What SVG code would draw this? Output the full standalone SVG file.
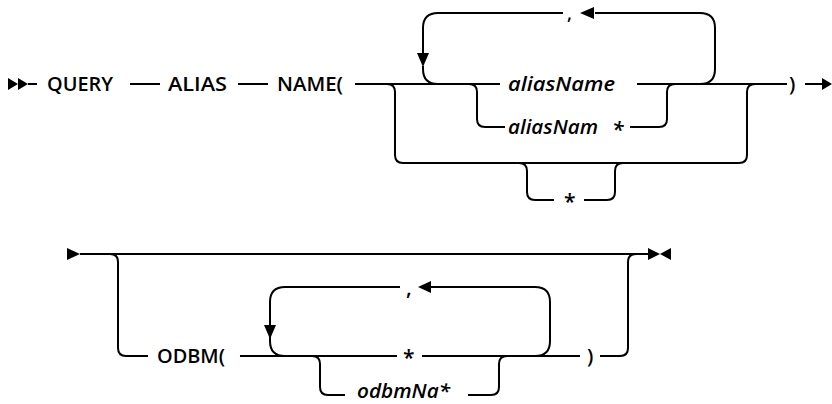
<svg xmlns="http://www.w3.org/2000/svg" width="832" height="404" viewBox="0 0 832 404">
<style>
.l{fill:none;stroke:#000;stroke-width:2}
.t{font-family:"Open Sans","Noto Sans","Liberation Sans",sans-serif;font-size:20px;font-weight:600;fill:#000}
.i{font-style:italic}
.s{font-size:21px}
.h{fill:#000}
</style>
<rect width="832" height="404" fill="#fff"/>
<g id="connectors">
<path class="l" d="M28,84H37M130,84H160M238,84H268M355,84H500M637,84H787M805,84H822"/>
<path class="l" d="M387,84Q395,84 395,92V155Q395,163 403,163H739Q747,163 747,155V92Q747,84 755,84"/>
<path class="l" d="M469,84Q477,84 477,92V119Q477,127 485,127H505M630,127H659Q667,127 667,119V92Q667,84 675,84"/>
<path class="l" d="M700,84Q715,84 715,69V28Q715,13 700,13H595M563,13H438Q423,13 423,28V55M423,66V69Q423,84 438,84"/>
<path class="l" d="M519,163Q527,163 527,171V192Q527,200 535,200H554M584,200H607Q615,200 615,192V171Q615,163 623,163"/>
<path class="l" d="M80,254H648"/>
<path class="l" d="M110,254Q118,254 118,262V348Q118,356 126,356H148M240,356H397M422,356H580M600,356H620Q628,356 628,348V262Q628,254 636,254"/>
<path class="l" d="M535,356Q550,356 550,341V302Q550,287 535,287H428M400,287H285Q270,287 270,302V327M270,336V341Q270,356 285,356"/>
<path class="l" d="M312,356Q320,356 320,364V387Q320,395 328,395H345M468,395H491Q499,395 499,387V364Q499,356 507,356"/>
<polygon class="h" points="8,78 18,84 8,90"/>
<polygon class="h" points="18,78 28,84 18,90"/>
<polygon class="h" points="822,78 832,84 822,90"/>
<polygon class="h" points="580,13 594,7 594,19"/>
<polygon class="h" points="417,53 429,53 423,67"/>
<polygon class="h" points="67,248 80,254 67,260"/>
<polygon class="h" points="648,248 660,254 648,260"/>
<polygon class="h" points="671,248 660,254 671,260"/>
<polygon class="h" points="418,287 431,281 431,293"/>
<polygon class="h" points="264,325 276,325 270,339"/>
</g>
<g id="n-query"><text class="t" x="47" y="91" textLength="66" lengthAdjust="spacingAndGlyphs">QUERY</text></g>
<g id="n-alias"><text class="t" x="168" y="91" textLength="59" lengthAdjust="spacingAndGlyphs">ALIAS</text></g>
<g id="n-name"><text class="t" x="277" y="91" textLength="66" lengthAdjust="spacingAndGlyphs">NAME(</text></g>
<g id="n-aliasName"><text class="t i" x="508" y="91" textLength="107" lengthAdjust="spacingAndGlyphs">aliasName</text></g>
<g id="n-aliasNam"><text class="t i" x="508" y="134" textLength="90" lengthAdjust="spacingAndGlyphs">aliasNam</text><text class="t i s" x="612" y="137">*</text></g>
<g id="n-comma1"><text class="t" x="567" y="20" style="font-size:18px">,</text></g>
<g id="n-star1"><text class="t s" x="564" y="209">*</text></g>
<g id="n-rparen1"><text class="t" x="789" y="91">)</text></g>
<g id="n-odbm"><text class="t" x="157" y="363" textLength="68" lengthAdjust="spacingAndGlyphs">ODBM(</text></g>
<g id="n-comma2"><text class="t s" x="406" y="295">,</text></g>
<g id="n-star2"><text class="t s" x="403" y="365">*</text></g>
<g id="n-odbmNa"><text class="t i" x="357" y="398" textLength="93" lengthAdjust="spacingAndGlyphs" style="font-size:19px">odbmNa*</text></g>
<g id="n-rparen2"><text class="t" x="587" y="363">)</text></g>
</svg>
